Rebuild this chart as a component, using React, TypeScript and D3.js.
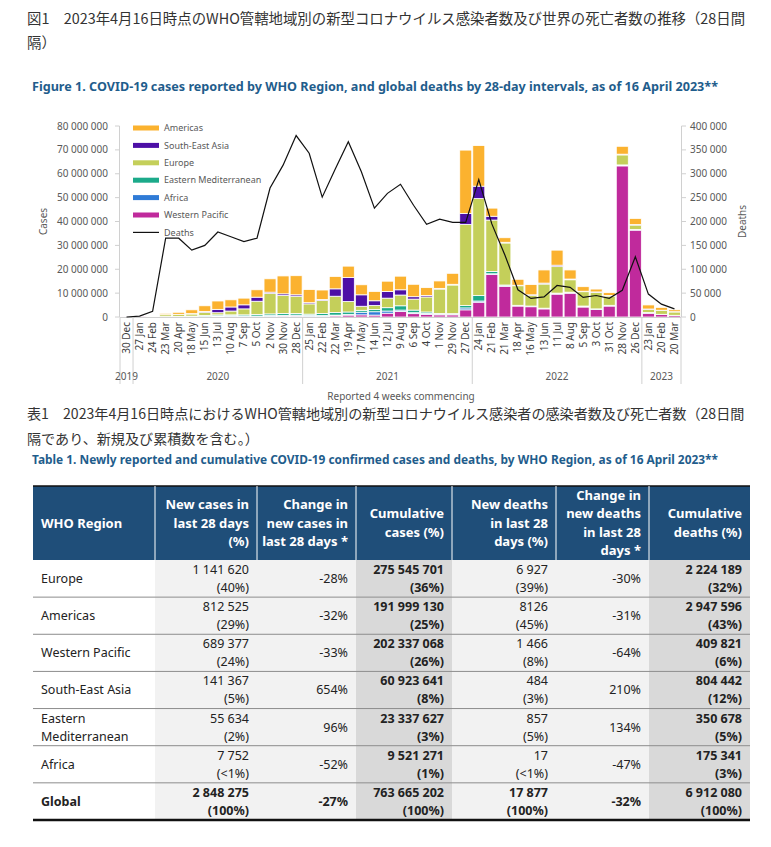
import * as d3 from 'd3'

const periods = [
  '30 Dec', '27 Jan', '24 Feb', '23 Mar', '20 Apr', '18 May', '15 Jun', '13 Jul', '10 Aug', '7 Sep', '5 Oct', '2 Nov', '30 Nov', '28 Dec',
  '25 Jan', '22 Feb', '22 Mar', '19 Apr', '17 May', '14 Jun', '12 Jul', '9 Aug', '6 Sep', '4 Oct', '1 Nov', '29 Nov', '27 Dec',
  '24 Jan', '21 Feb', '21 Mar', '18 Apr', '16 May', '13 Jun', '11 Jul', '8 Aug', '5 Sep', '3 Oct', '31 Oct', '28 Nov', '26 Dec',
  '23 Jan', '20 Feb', '20 Mar',
]
const years = ['2019', '2020', '2021', '2022', '2023']
const yearStart = [0, 1, 14, 27, 40]

// cases in millions, per 28-day period
const westernPacific = [0.01, 0.07, 0.05, 0.1, 0.08, 0.05, 0.05, 0.15, 0.2, 0.2, 0.2, 0.3, 0.4, 0.4, 0.3, 0.3, 0.5, 0.8, 0.9, 0.8, 1.6, 2.3, 1.4, 1.1, 0.9, 0.9, 3.0, 6.2, 17.8, 12.9, 4.6, 4.3, 3.4, 9.6, 10.0, 4.2, 3.1, 4.6, 63.3, 36.4, 1.6, 1.0, 0.6]
const africa = [0, 0, 0, 0.01, 0.03, 0.06, 0.15, 0.3, 0.3, 0.2, 0.2, 0.3, 0.3, 0.4, 0.4, 0.3, 0.3, 0.3, 1.1, 1.4, 0.9, 0.6, 0.4, 0.4, 0.2, 0.2, 0.8, 0.5, 0.3, 0.1, 0.1, 0.1, 0.1, 0.1, 0.1, 0.1, 0.1, 0.1, 0.1, 0.1, 0.05, 0.03, 0.02]
const easternMed = [0, 0, 0.03, 0.05, 0.15, 0.25, 0.4, 0.45, 0.4, 0.5, 0.7, 0.7, 0.8, 0.7, 0.5, 0.9, 1.1, 1.0, 0.8, 0.9, 1.4, 1.8, 1.1, 0.6, 0.4, 0.3, 1.0, 2.3, 1.0, 0.4, 0.2, 0.2, 0.2, 0.3, 0.3, 0.3, 0.2, 0.2, 0.3, 0.2, 0.2, 0.1, 0.1]
const europe = [0, 0, 0.1, 0.8, 0.8, 0.9, 1.4, 0.9, 1.6, 2.5, 5.5, 8.5, 7.5, 7.2, 4.3, 5.4, 6.8, 4.4, 1.7, 1.7, 4.0, 4.5, 4.6, 6.3, 10.2, 12.0, 34.0, 40.6, 21.5, 17.6, 8.2, 4.5, 10.1, 11.1, 5.2, 6.0, 6.9, 3.9, 4.2, 1.8, 1.4, 1.6, 1.4]
const southEastAsia = [0, 0, 0, 0.02, 0.07, 0.15, 0.3, 1.4, 1.7, 1.7, 1.7, 0.6, 0.7, 0.6, 0.5, 0.4, 3.1, 10.0, 4.8, 2.0, 2.8, 2.2, 1.0, 0.6, 0.3, 0.3, 4.6, 5.2, 1.6, 0.3, 0.2, 0.2, 0.4, 0.6, 0.3, 0.2, 0.2, 0.2, 0.3, 0.2, 0.1, 0.1, 0.1]
const americas = [0, 0, 0.02, 0.55, 0.85, 1.6, 2.4, 3.5, 3.0, 2.8, 3.1, 5.6, 7.5, 8.0, 5.5, 4.0, 5.2, 4.8, 4.2, 3.9, 4.3, 5.7, 5.2, 3.3, 3.1, 4.6, 26.5, 17.0, 3.4, 1.9, 2.5, 4.3, 5.5, 6.3, 3.8, 1.9, 1.2, 1.2, 3.3, 2.6, 1.7, 1.2, 0.8]
// global deaths in thousands
const deaths = [0, 2, 12, 165, 165, 140, 150, 178, 168, 158, 165, 270, 318, 380, 343, 251, 310, 367, 304, 228, 259, 278, 234, 194, 205, 198, 198, 288, 195, 130, 57, 39, 42, 66, 62, 41, 45, 39, 56, 126, 48, 27, 17]

const stackKeys = ['Western Pacific', 'Africa', 'Eastern Mediterranean', 'Europe', 'South-East Asia', 'Americas']
const stackSeries = [westernPacific, africa, easternMed, europe, southEastAsia, americas]
const legendKeys = ['Americas', 'South-East Asia', 'Europe', 'Eastern Mediterranean', 'Africa', 'Western Pacific']
const COLORS: Record<string, string> = {
  Americas: '#FBB22F',
  'South-East Asia': '#4D0FA6',
  Europe: '#C4CF5A',
  'Eastern Mediterranean': '#1CAA8A',
  Africa: '#2F7BD6',
  'Western Pacific': '#C02A9C',
}
const casesTicks = [0, 10, 20, 30, 40, 50, 60, 70, 80]
const deathTicks = [0, 50, 100, 150, 200, 250, 300, 350, 400]

// table
const tableHeaders = [
  ['WHO Region'],
  ['New cases in', 'last 28 days', '(%)'],
  ['Change in', 'new cases in', 'last 28 days *'],
  ['Cumulative', 'cases (%)'],
  ['New deaths', 'in last 28', 'days (%)'],
  ['Change in', 'new deaths', 'in last 28', 'days *'],
  ['Cumulative', 'deaths (%)'],
]
const regions = [['Europe'], ['Americas'], ['Western Pacific'], ['South-East Asia'], ['Eastern', 'Mediterranean'], ['Africa'], ['Global']]
const newCases = ['1 141 620', '812 525', '689 377', '141 367', '55 634', '7 752', '2 848 275']
const newCasesPct = ['(40%)', '(29%)', '(24%)', '(5%)', '(2%)', '(<1%)', '(100%)']
const changeCases = ['-28%', '-32%', '-33%', '654%', '96%', '-52%', '-27%']
const cumCases = ['275 545 701', '191 999 130', '202 337 068', '60 923 641', '23 337 627', '9 521 271', '763 665 202']
const cumCasesPct = ['(36%)', '(25%)', '(26%)', '(8%)', '(3%)', '(1%)', '(100%)']
const newDeaths = ['6 927', '8126', '1 466', '484', '857', '17', '17 877']
const newDeathsPct = ['(39%)', '(45%)', '(8%)', '(3%)', '(5%)', '(<1%)', '(100%)']
const changeDeaths = ['-30%', '-31%', '-64%', '210%', '134%', '-47%', '-32%']
const cumDeaths = ['2 224 189', '2 947 596', '409 821', '804 442', '350 678', '175 341', '6 912 080']
const cumDeathsPct = ['(32%)', '(43%)', '(6%)', '(12%)', '(5%)', '(3%)', '(100%)']

const FONT = '"Noto Sans", sans-serif'
const JP = '"Noto Sans CJK JP", sans-serif'
const BLUE = '#1F5D8C'
const GREY = '#595959'

function Chart() {
  const x0 = 120
  const x1 = 681
  const yBase = 317
  const yTop = 126
  const x = d3.scaleBand<number>().domain(d3.range(periods.length)).range([x0, x1]).paddingInner(0.08).paddingOuter(0.04)
  const step = x.step()
  const yC = d3.scaleLinear().domain([0, 80]).range([yBase, yTop])
  const yD = d3.scaleLinear().domain([0, 400]).range([yBase, yTop])

  const rows = periods.map((_, i) => {
    const r: Record<string, number> = {}
    stackKeys.forEach((k, j) => (r[k] = stackSeries[j][i]))
    return r
  })
  const stacked = d3.stack<Record<string, number>>().keys(stackKeys)(rows)
  const line = d3
    .line<number>()
    .x((_, i) => (x(i) ?? 0) + x.bandwidth() / 2)
    .y((d) => yD(d))
  const fmt = (v: number) => d3.format(',')(v).replace(/,/g, ' ')
  const bounds = [...yearStart, periods.length]

  return (
    <g fontFamily={FONT}>
      {/* axes lines */}
      <line x1={x0 - 0.5} x2={x0 - 0.5} y1={yTop} y2={yBase} stroke="#D0D0D0" />
      <line x1={x1 + 0.5} x2={x1 + 0.5} y1={yTop} y2={yBase} stroke="#D0D0D0" />
      {casesTicks.map((t) => (
        <g key={'c' + t}>
          <line x1={x0 - 5} x2={x0 - 0.5} y1={yC(t)} y2={yC(t)} stroke="#D0D0D0" />
          <text x={108} y={yC(t)} dy="0.35em" textAnchor="end" fontSize={10} fill={GREY}>
            {fmt(t * 1000000)}
          </text>
        </g>
      ))}
      {deathTicks.map((t) => (
        <g key={'d' + t}>
          <line x1={x1 + 0.5} x2={x1 + 5} y1={yD(t)} y2={yD(t)} stroke="#D0D0D0" />
          <text x={690} y={yD(t)} dy="0.35em" fontSize={10} fill={GREY}>
            {fmt(t * 1000)}
          </text>
        </g>
      ))}
      <text transform={`translate(47,${(yTop + yBase) / 2}) rotate(-90)`} textAnchor="middle" fontSize={10} fill={GREY}>
        Cases
      </text>
      <text transform={`translate(746,${(yTop + yBase) / 2}) rotate(-90)`} textAnchor="middle" fontSize={10} fill={GREY}>
        Deaths
      </text>

      {/* bars */}
      {stacked.map((s) => (
        <g key={s.key} fill={COLORS[s.key]}>
          {s.map((d, i) => {
            const h = yC(d[0]) - yC(d[1])
            if (h <= 0) return null
            return (
              <rect key={i} x={x(i)} y={yC(d[1])} width={x.bandwidth()} height={h} stroke="#fff" strokeWidth={0.8} />
            )
          })}
        </g>
      ))}
      <line x1={x0} x2={x1} y1={yBase + 0.5} y2={yBase + 0.5} stroke="#D0D0D0" />

      {/* deaths line */}
      <path d={line(deaths) ?? ''} fill="none" stroke="#111" strokeWidth={1.2} />

      {/* x axis labels */}
      {periods.map((p, i) => (
        <text
          key={i}
          transform={`translate(${(x(i) ?? 0) + x.bandwidth() / 2},${yBase + 5}) rotate(-90)`}
          textAnchor="end"
          dy="0.35em"
          fontSize={10}
          fill="#404040"
        >
          {p}
        </text>
      ))}
      {bounds.map((b, i) => (
        <line key={'b' + i} x1={x0 + b * step} x2={x0 + b * step} y1={yBase} y2={384} stroke="#D0D0D0" />
      ))}
      {years.map((yr, i) => {
        const a = x0 + bounds[i] * step
        const b = x0 + bounds[i + 1] * step
        return (
          <text key={yr} x={(a + b) / 2} y={380} textAnchor="middle" fontSize={10} fill={GREY}>
            {yr}
          </text>
        )
      })}
      <text x={401} y={400} textAnchor="middle" fontSize={10} fill={GREY}>
        Reported 4 weeks commencing
      </text>

      {/* legend */}
      {legendKeys.map((k, i) => (
        <g key={k} transform={`translate(133,${128 + i * 17.4})`}>
          <rect x={0} y={-2.5} width={26} height={5} fill={COLORS[k]} />
          <text x={31} dy="0.35em" fontSize={9} fill={GREY}>
            {k}
          </text>
        </g>
      ))}
      <g transform={`translate(133,${128 + 6 * 17.4})`}>
        <line x1={0} x2={26} stroke="#111" strokeWidth={1.2} />
        <text x={31} dy="0.35em" fontSize={9} fill={GREY}>
          Deaths
        </text>
      </g>
    </g>
  )
}

function Table() {
  const cols = [33, 155, 257, 356, 452, 556, 649, 750]
  const top = 486
  const headBottom = 560
  const rowH = 37.14
  const bg = ['#FFFFFF', '#F2F2F2', '#F2F2F2', '#D9D9D9', '#F2F2F2', '#F2F2F2', '#D9D9D9']
  const right = (c: number) => cols[c + 1] - 8
  const rowTop = (r: number) => headBottom + r * rowH
  const twoLine = (c: number, r: number, a: string, b: string, bold: boolean) => (
    <g key={`${c}-${r}`} fontWeight={bold ? 700 : 400}>
      <text x={right(c)} y={rowTop(r) + 14} textAnchor="end">
        {a}
      </text>
      <text x={right(c)} y={rowTop(r) + 32} textAnchor="end">
        {b}
      </text>
    </g>
  )
  const isGlobal = (r: number) => r === regions.length - 1
  return (
    <g fontFamily={FONT} fontSize={12.5} fill="#222">
      <rect x={cols[0]} y={top} width={cols[7] - cols[0]} height={headBottom - top} fill="#1F4E79" />
      <line x1={cols[0]} x2={cols[7]} y1={top} y2={top} stroke="#111" strokeWidth={1.5} />
      {cols.slice(1, 7).map((cx) => (
        <line key={cx} x1={cx} x2={cx} y1={top} y2={headBottom} stroke="#fff" strokeWidth={1} />
      ))}
      {tableHeaders.map((lines, c) => {
        const lh = 18.5
        const mid = (top + headBottom) / 2
        const start = mid - ((lines.length - 1) * lh) / 2
        return lines.map((ln, k) => (
          <text
            key={`${c}-${k}`}
            x={c === 0 ? 41 : right(c)}
            y={start + k * lh}
            dy="0.35em"
            textAnchor={c === 0 ? 'start' : 'end'}
            fill="#fff"
            fontWeight={700}
            fontSize={13}
          >
            {ln}
          </text>
        ))
      })}
      {regions.map((_, r) =>
        bg.map((b, c) => (
          <rect key={`bg${r}-${c}`} x={cols[c]} y={rowTop(r)} width={cols[c + 1] - cols[c]} height={rowH} fill={b} />
        )),
      )}
      {regions.map((_, r) => (
        <line
          key={'l' + r}
          x1={cols[0]}
          x2={cols[7]}
          y1={rowTop(r + 1)}
          y2={rowTop(r + 1)}
          stroke={isGlobal(r) ? '#111' : '#8C8C8C'}
          strokeWidth={isGlobal(r) ? 2.5 : 1}
        />
      ))}
      {regions.map((name, r) => {
        const g = isGlobal(r)
        const mid = rowTop(r) + rowH / 2
        return (
          <g key={'r' + r}>
            {name.map((n, k) => (
              <text key={k} x={41} y={mid + (k - (name.length - 1) / 2) * 18} dy="0.35em" fontWeight={g ? 700 : 400}>
                {n}
              </text>
            ))}
            {twoLine(1, r, newCases[r], newCasesPct[r], g)}
            <text x={right(2)} y={mid} dy="0.35em" textAnchor="end" fontWeight={g ? 700 : 400}>
              {changeCases[r]}
            </text>
            {twoLine(3, r, cumCases[r], cumCasesPct[r], true)}
            {twoLine(4, r, newDeaths[r], newDeathsPct[r], g)}
            <text x={right(5)} y={mid} dy="0.35em" textAnchor="end" fontWeight={g ? 700 : 400}>
              {changeDeaths[r]}
            </text>
            {twoLine(6, r, cumDeaths[r], cumDeathsPct[r], true)}
          </g>
        )
      })}
    </g>
  )
}

export default function App() {
  return (
    <svg width={771} height={847} style={{ position: 'absolute', left: 0, top: 0, background: '#fff' }}>
      <g fontFamily={JP} fill="#333">
        <text x={27} y={24} fontSize={14.4}>
          図1　2023年4月16日時点のWHO管轄地域別の新型コロナウイルス感染者数及び世界の死亡者数の推移（28日間
        </text>
        <text x={27} y={48} fontSize={14.4}>
          隔）
        </text>
        <text x={27} y={419} fontSize={14.1}>
          表1　2023年4月16日時点におけるWHO管轄地域別の新型コロナウイルス感染者の感染者数及び死亡者数（28日間
        </text>
        <text x={27} y={444} fontSize={14.1}>
          隔であり、新規及び累積数を含む。）
        </text>
      </g>
      <text x={32} y={91} fontFamily={FONT} fontWeight={700} fontSize={12.5} fill={BLUE} textLength={686} lengthAdjust="spacingAndGlyphs">
        Figure 1. COVID-19 cases reported by WHO Region, and global deaths by 28-day intervals, as of 16 April 2023**
      </text>
      <text x={32} y={464} fontFamily={FONT} fontWeight={700} fontSize={12.5} fill={BLUE} textLength={686} lengthAdjust="spacingAndGlyphs">
        Table 1. Newly reported and cumulative COVID-19 confirmed cases and deaths, by WHO Region, as of 16 April 2023**
      </text>
      <Chart />
      <Table />
    </svg>
  )
}
